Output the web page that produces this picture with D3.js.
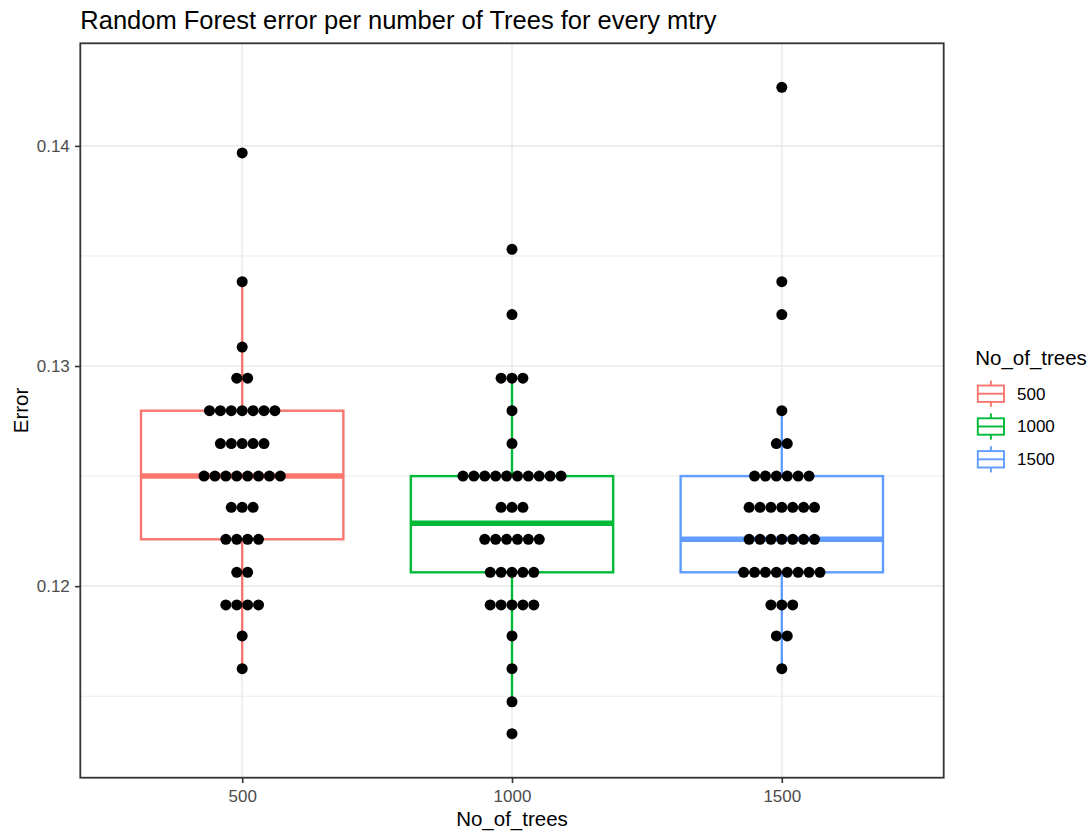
<!DOCTYPE html>
<html>
<head>
<meta charset="utf-8">
<script src="https://cdn.jsdelivr.net/npm/d3@7"></script>
<style>
  body { margin: 0; background: #ffffff; }
  svg { display: block; }
  text { font-family: "Liberation Sans", Arial, sans-serif; }
</style>
</head>
<body>
<svg id="chart" width="1091" height="832"></svg>
<script>
// ---- data -------------------------------------------------------------
const categories = ["500", "1000", "1500"];
const seriesColors = ["#F8766D", "#00BA38", "#619CFF"];

// out-of-bag error of every random forest fitted with 500 trees
const errors500 = [
  0.13968,
  0.13383,
  0.13086,
  0.12945, 0.12945,
  0.12797, 0.12797, 0.12797, 0.12797, 0.12797, 0.12797, 0.12797,
  0.12648, 0.12648, 0.12648, 0.12648, 0.12648,
  0.12500, 0.12500, 0.12500, 0.12500, 0.12500, 0.12500, 0.12500, 0.12500,
  0.12358, 0.12358, 0.12358,
  0.12213, 0.12213, 0.12213, 0.12213,
  0.12063, 0.12063,
  0.11915, 0.11915, 0.11915, 0.11915,
  0.11774,
  0.11625
];

// ... with 1000 trees
const errors1000 = [
  0.13530,
  0.13234,
  0.12945, 0.12945, 0.12945,
  0.12797,
  0.12648,
  0.12500, 0.12500, 0.12500, 0.12500, 0.12500, 0.12500, 0.12500, 0.12500, 0.12500, 0.12500,
  0.12358, 0.12358, 0.12358,
  0.12213, 0.12213, 0.12213, 0.12213, 0.12213, 0.12213,
  0.12063, 0.12063, 0.12063, 0.12063, 0.12063,
  0.11915, 0.11915, 0.11915, 0.11915, 0.11915,
  0.11774,
  0.11625,
  0.11475,
  0.11330
];

// ... with 1500 trees
const errors1500 = [
  0.14266,
  0.13383,
  0.13234,
  0.12797,
  0.12648, 0.12648,
  0.12500, 0.12500, 0.12500, 0.12500, 0.12500, 0.12500,
  0.12358, 0.12358, 0.12358, 0.12358, 0.12358, 0.12358, 0.12358,
  0.12213, 0.12213, 0.12213, 0.12213, 0.12213, 0.12213, 0.12213,
  0.12063, 0.12063, 0.12063, 0.12063, 0.12063, 0.12063, 0.12063, 0.12063,
  0.11915, 0.11915, 0.11915,
  0.11774, 0.11774,
  0.11625
];

const yTicks = [0.12, 0.13, 0.14];
const yMinorTicks = [0.115, 0.125, 0.135];

const chartTitle = "Random Forest error per number of Trees for every mtry";
const xAxisTitle = "No_of_trees";
const yAxisTitle = "Error";
const legendTitle = "No_of_trees";

// ---- layout -----------------------------------------------------------
const panel = { left: 80.3, right: 943.7, top: 43.3, bottom: 777.7 };
const gridColor = "#EBEBEB";
const inkColor = "#333333";

const groups = categories.map((key, i) => ({
  key,
  color: seriesColors[i],
  values: [errors500, errors1000, errors1500][i]
}));

const svg = d3.select("#chart");

const allValues = groups.flatMap(g => g.values);
const [vMin, vMax] = d3.extent(allValues);
const yPad = 0.002;
const y = d3.scaleLinear()
  .domain([vMin - yPad, vMax + yPad])
  .range([panel.bottom, panel.top]);

const x = d3.scalePoint()
  .domain(categories)
  .range([panel.left, panel.right])
  .padding(0.6);

const step = x.step();
const boxWidth = step * 0.75;

// ---- grid -------------------------------------------------------------
const grid = svg.append("g");
grid.selectAll("line.minor").data(yMinorTicks).join("line")
  .attr("x1", panel.left).attr("x2", panel.right)
  .attr("y1", d => y(d)).attr("y2", d => y(d))
  .attr("stroke", gridColor).attr("stroke-width", 1);
grid.selectAll("line.major-y").data(yTicks).join("line")
  .attr("x1", panel.left).attr("x2", panel.right)
  .attr("y1", d => y(d)).attr("y2", d => y(d))
  .attr("stroke", gridColor).attr("stroke-width", 1.6);
grid.selectAll("line.major-x").data(categories).join("line")
  .attr("x1", d => x(d)).attr("x2", d => x(d))
  .attr("y1", panel.top).attr("y2", panel.bottom)
  .attr("stroke", gridColor).attr("stroke-width", 1.6);

// ---- boxplots ---------------------------------------------------------
function boxStats(values) {
  const s = values.slice().sort(d3.ascending);
  const q1 = d3.quantile(s, 0.25);
  const med = d3.quantile(s, 0.5);
  const q3 = d3.quantile(s, 0.75);
  const iqr = q3 - q1;
  const lo = d3.min(s.filter(v => v >= q1 - 1.5 * iqr));
  const hi = d3.max(s.filter(v => v <= q3 + 1.5 * iqr));
  return { q1, med, q3, lo, hi };
}

const boxLine = 2.4;
const boxes = svg.append("g");
groups.forEach(g => {
  const st = boxStats(g.values);
  const cx = x(g.key);
  const bg = boxes.append("g");
  bg.append("line")
    .attr("x1", cx).attr("x2", cx)
    .attr("y1", y(st.q3)).attr("y2", y(st.hi))
    .attr("stroke", g.color).attr("stroke-width", boxLine);
  bg.append("line")
    .attr("x1", cx).attr("x2", cx)
    .attr("y1", y(st.q1)).attr("y2", y(st.lo))
    .attr("stroke", g.color).attr("stroke-width", boxLine);
  bg.append("rect")
    .attr("x", cx - boxWidth / 2).attr("width", boxWidth)
    .attr("y", y(st.q3)).attr("height", y(st.q1) - y(st.q3))
    .attr("fill", "#ffffff")
    .attr("stroke", g.color).attr("stroke-width", boxLine);
  bg.append("line")
    .attr("x1", cx - boxWidth / 2).attr("x2", cx + boxWidth / 2)
    .attr("y1", y(st.med)).attr("y2", y(st.med))
    .attr("stroke", g.color).attr("stroke-width", boxLine * 2.3);
});

// ---- dot stacks -------------------------------------------------------
const dotSpacing = 10.9;
const dotRadius = 5.5;
const dots = svg.append("g");
groups.forEach(g => {
  const cx = x(g.key);
  const bins = d3.rollups(g.values, v => v.length, v => v);
  const pts = [];
  bins.forEach(([value, n]) => {
    for (let k = 0; k < n; k++) {
      pts.push({ value, offset: (k - (n - 1) / 2) * dotSpacing });
    }
  });
  dots.selectAll(null).data(pts).join("circle")
    .attr("cx", d => cx + d.offset)
    .attr("cy", d => y(d.value))
    .attr("r", dotRadius)
    .attr("fill", "#000000");
});

// ---- panel border -----------------------------------------------------
svg.append("rect")
  .attr("x", panel.left).attr("y", panel.top)
  .attr("width", panel.right - panel.left)
  .attr("height", panel.bottom - panel.top)
  .attr("fill", "none")
  .attr("stroke", inkColor).attr("stroke-width", 1.8);

// ---- axes -------------------------------------------------------------
const yAxis = svg.append("g")
  .attr("transform", `translate(${panel.left},0)`)
  .call(d3.axisLeft(y).tickValues(yTicks).tickSize(5.3).tickPadding(5.2)
    .tickFormat(d3.format(".2f")));
const xAxis = svg.append("g")
  .attr("transform", `translate(0,${panel.bottom})`)
  .call(d3.axisBottom(x).tickSize(5.3).tickPadding(7.3));

[yAxis, xAxis].forEach(ax => {
  ax.select(".domain").remove();
  ax.selectAll(".tick line").attr("stroke", inkColor).attr("stroke-width", 1.6);
  ax.selectAll(".tick text")
    .attr("fill", "#4D4D4D")
    .style("font-size", "17px")
    .style("font-family", "'Liberation Sans', Arial, sans-serif");
});

// ---- titles -----------------------------------------------------------
svg.append("text")
  .attr("x", panel.left).attr("y", 29.3)
  .style("font-size", "25.5px")
  .attr("fill", "#000000")
  .text(chartTitle);

svg.append("text")
  .attr("x", (panel.left + panel.right) / 2).attr("y", 826)
  .attr("text-anchor", "middle")
  .style("font-size", "20.5px")
  .attr("fill", "#000000")
  .text(xAxisTitle);

svg.append("text")
  .attr("transform", `translate(28,${(panel.top + panel.bottom) / 2}) rotate(-90)`)
  .attr("text-anchor", "middle")
  .style("font-size", "20.5px")
  .attr("fill", "#000000")
  .text(yAxisTitle);

// ---- legend -----------------------------------------------------------
const legend = svg.append("g");
legend.append("text")
  .attr("x", 975.2).attr("y", 365)
  .style("font-size", "20.5px")
  .attr("fill", "#000000")
  .text(legendTitle);

const keySize = 32.8;
const keyX = 974.5;
const keyTop = 377.3;
groups.forEach((g, i) => {
  const k = legend.append("g")
    .attr("transform", `translate(${keyX},${keyTop + i * keySize})`);
  const s = keySize;
  const kw = 1.9;
  k.append("line").attr("x1", s / 2).attr("x2", s / 2)
    .attr("y1", s * 0.1).attr("y2", s * 0.25)
    .attr("stroke", g.color).attr("stroke-width", kw);
  k.append("line").attr("x1", s / 2).attr("x2", s / 2)
    .attr("y1", s * 0.75).attr("y2", s * 0.9)
    .attr("stroke", g.color).attr("stroke-width", kw);
  k.append("rect")
    .attr("x", s * 0.1).attr("y", s * 0.25)
    .attr("width", s * 0.8).attr("height", s * 0.5)
    .attr("fill", "#ffffff")
    .attr("stroke", g.color).attr("stroke-width", kw);
  k.append("line").attr("x1", s * 0.1).attr("x2", s * 0.9)
    .attr("y1", s / 2).attr("y2", s / 2)
    .attr("stroke", g.color).attr("stroke-width", kw);
  k.append("text")
    .attr("x", 42.5).attr("y", s / 2)
    .attr("dy", "0.35em")
    .style("font-size", "17px")
    .attr("fill", "#000000")
    .text(g.key);
});
</script>
</body>
</html>
